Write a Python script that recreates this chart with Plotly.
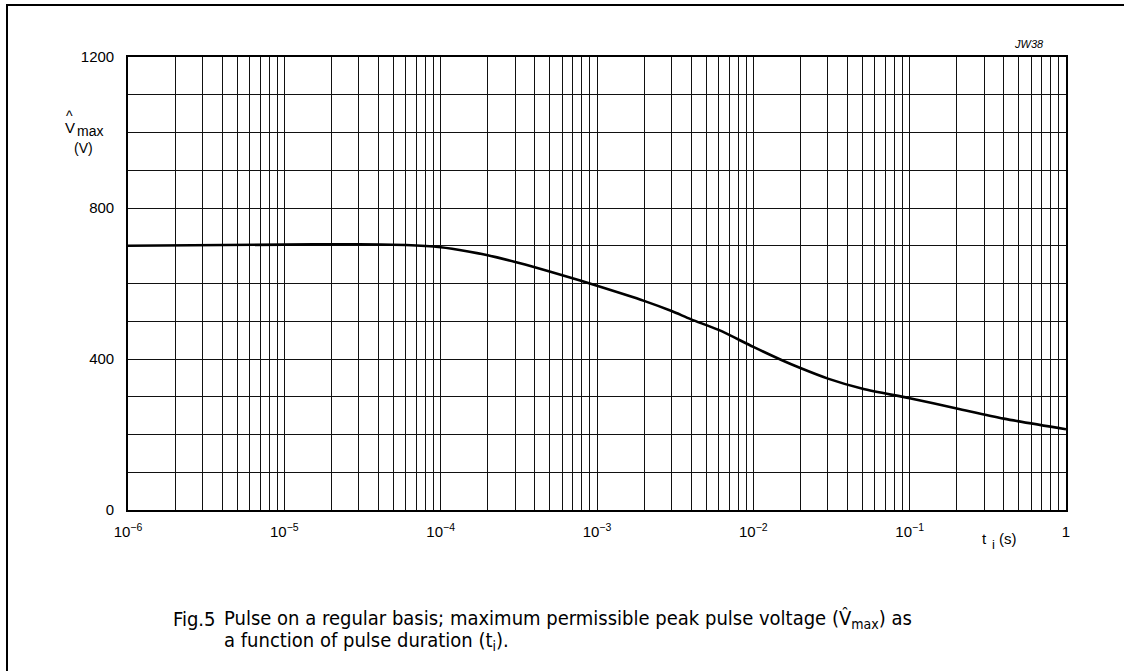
import plotly.graph_objects as go

# ---- data ----
t_s = [1e-6, 1e-5, 3e-5, 6e-5, 1e-4, 1.5e-4, 2e-4, 3e-4, 4e-4, 6e-4, 1e-3,
       2e-3, 3e-3, 4e-3, 6e-3, 1e-2, 1.5e-2, 2e-2, 3e-2, 5e-2, 1e-1, 2e-1, 4e-1, 1]
v_max = [700, 703, 704, 702, 696, 685, 675, 657, 643, 622, 594,
         554, 527, 505, 477, 432, 398, 376, 348, 321, 296, 269, 242, 214]

x_major_vals = [1e-6, 1e-5, 1e-4, 1e-3, 1e-2, 1e-1, 1.0]
x_major_text = ["10<sup>−6</sup>", "10<sup>−5</sup>", "10<sup>−4</sup>", "10<sup>−3</sup>",
                "10<sup>−2</sup>", "10<sup>−1</sup>", "1"]
x_minor_vals = [m * 10.0 ** d for d in [-6, -5, -4, -3, -2, -1] for m in range(2, 10)]

y_major_vals = [0, 400, 800, 1200]
y_major_text = ["0", "400", "800", "1200"]

W, H = 1124, 671
L, R, T, B = 128, 1066, 57, 510

def px(x):
    return (x - L) / (R - L)

def py(y):
    return (B - y) / (B - T)

fig = go.Figure()
fig.add_trace(go.Scatter(x=t_s, y=v_max, mode="lines",
                         line=dict(color="black", width=2.6, shape="spline", smoothing=0.8),
                         showlegend=False, hoverinfo="skip"))

FONT = "Liberation Sans, Arial, Helvetica, sans-serif"
tick_font = dict(family=FONT, size=15, color="black")
grid_col = "#111111"
fig.update_xaxes(type="log", range=[-6, 0], tickmode="array",
                 tickvals=x_major_vals, ticktext=x_major_text,
                 showgrid=True, gridcolor=grid_col, gridwidth=1,
                 minor=dict(tickmode="array", tickvals=x_minor_vals, showgrid=True,
                            gridcolor=grid_col, gridwidth=1, ticks=""),
                 showline=True, linecolor="black", linewidth=1.6, mirror=True,
                 ticks="", tickfont=tick_font, ticklabelstandoff=7, zeroline=False)
fig.update_yaxes(range=[0, 1200], tickmode="array",
                 tickvals=y_major_vals, ticktext=y_major_text,
                 showgrid=True, gridcolor=grid_col, gridwidth=1,
                 minor=dict(dtick=100, showgrid=True, gridcolor=grid_col, gridwidth=1, ticks=""),
                 showline=True, linecolor="black", linewidth=1.6, mirror=True,
                 ticks="", tickfont=tick_font, ticklabelstandoff=9, zeroline=False)


def note(x, y, text, size, xanchor="center", family=FONT):
    return dict(x=px(x), y=py(y), xref="paper", yref="paper", text=text, showarrow=False,
                xanchor=xanchor, yanchor="middle",
                font=dict(family=family, size=size, color="black"))


ann = [
    # y-axis label: V-hat max (V)
    note(69, 116, "^", 14),
    note(63, 127, "V", 15, "left"),
    note(75, 131, "max", 14, "left"),
    note(83, 148, "(V)", 14),
    # x-axis label t_i (s)
    note(980, 538, "t", 15, "left"),
    note(990, 544, "i", 13, "left"),
    note(997, 538, "(s)", 15, "left"),
    # drawing code
    note(1029, 44, "<i>JW38</i>", 11),
]
CAP = "DejaVu Sans Condensed, Lato, sans-serif"
ann += [
    note(171, 619, "Fig.5", 20, "left", CAP),
    note(222, 619, "Pulse on a regular basis; maximum permissible peak pulse voltage "
                   "(V\u0302<sub>max</sub>) as", 20, "left", CAP),
    note(222, 641, "a function of pulse duration (t<sub>i</sub>).", 20, "left", CAP),
]

fig.update_layout(
    width=W, height=H,
    margin=dict(l=L, r=W - R, t=T, b=H - B, autoexpand=False),
    paper_bgcolor="white", plot_bgcolor="white",
    annotations=ann,
    shapes=[dict(type="rect", xref="paper", yref="paper",
                 x0=px(7), x1=px(1135), y0=py(5), y1=py(690),
                 line=dict(color="black", width=2), layer="below")],
)

fig.write_html("out.html", config={"displayModeBar": False},
               post_script="document.body.style.margin='0';document.body.style.overflow='hidden';")
